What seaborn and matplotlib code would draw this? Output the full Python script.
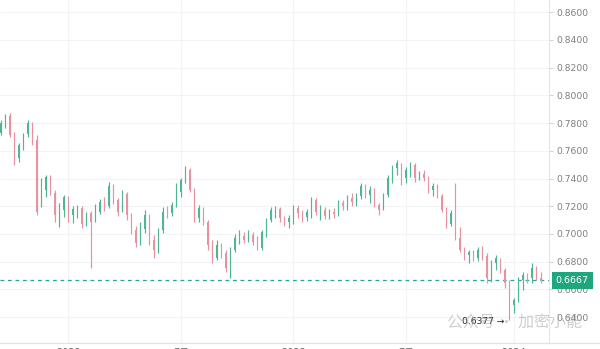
import numpy as np
import pandas as pd
import matplotlib
matplotlib.use("Agg")
import matplotlib.pyplot as plt
import matplotlib.transforms as mtransforms
import seaborn as sns

# ---------------- data ----------------
opens = [0.7728, 0.7786, 0.7851, 0.7714, 0.7547, 0.7634, 0.7721, 0.7793, 0.7677, 0.7209,
         0.7317, 0.7403, 0.7295, 0.7144, 0.7173, 0.7259, 0.7137, 0.7173, 0.7187, 0.7087,
         0.7151, 0.7101, 0.7159, 0.7223, 0.7202, 0.7346, 0.7245, 0.7173, 0.7288, 0.7137,
         0.7029, 0.6943, 0.7036, 0.7130, 0.6957, 0.6884, 0.7029, 0.7159, 0.7151, 0.7209,
         0.7303, 0.7382, 0.7461, 0.7317, 0.7115, 0.7180, 0.7087, 0.6928, 0.6827, 0.6921,
         0.6862, 0.6754, 0.6884, 0.6971, 0.6986, 0.6957, 0.6993, 0.6943, 0.6899, 0.7007,
         0.7101, 0.7166, 0.7180, 0.7115, 0.7087, 0.7108, 0.7187, 0.7151, 0.7123, 0.7144,
         0.7245, 0.7159, 0.7173, 0.7130, 0.7159, 0.7144, 0.7223, 0.7202, 0.7259, 0.7231,
         0.7274, 0.7346, 0.7281, 0.7310, 0.7209, 0.7187, 0.7281, 0.7403, 0.7475, 0.7497,
         0.7403, 0.7446, 0.7497, 0.7411, 0.7432, 0.7403, 0.7317, 0.7339, 0.7274, 0.7173,
         0.7072, 0.7151, 0.6971, 0.6884, 0.6848, 0.6862, 0.6827, 0.6884, 0.6841, 0.6682,
         0.6790, 0.6812, 0.6740, 0.6646, 0.6488, 0.6524, 0.6668, 0.6704, 0.6682, 0.6754,
         0.6682]
highs = [0.7822, 0.7865, 0.7872, 0.7736, 0.7655, 0.7728, 0.7822, 0.7808, 0.7714, 0.7403,
         0.7425, 0.7425, 0.7317, 0.7223, 0.7281, 0.7274, 0.7202, 0.7209, 0.7202, 0.7159,
         0.7166, 0.7216, 0.7252, 0.7267, 0.7375, 0.7360, 0.7259, 0.7317, 0.7303, 0.7151,
         0.7058, 0.7087, 0.7173, 0.7144, 0.6993, 0.7043, 0.7195, 0.7202, 0.7231, 0.7367,
         0.7403, 0.7490, 0.7475, 0.7331, 0.7209, 0.7195, 0.7101, 0.6957, 0.6957, 0.6935,
         0.6884, 0.6907, 0.7000, 0.7029, 0.7014, 0.7029, 0.7014, 0.6986, 0.7029, 0.7115,
         0.7195, 0.7202, 0.7195, 0.7130, 0.7137, 0.7209, 0.7209, 0.7173, 0.7180, 0.7267,
         0.7259, 0.7209, 0.7195, 0.7180, 0.7187, 0.7245, 0.7245, 0.7281, 0.7295, 0.7295,
         0.7367, 0.7360, 0.7346, 0.7331, 0.7223, 0.7295, 0.7425, 0.7497, 0.7533, 0.7511,
         0.7482, 0.7519, 0.7511, 0.7454, 0.7461, 0.7418, 0.7367, 0.7360, 0.7288, 0.7195,
         0.7173, 0.7367, 0.7050, 0.6907, 0.6884, 0.6884, 0.6907, 0.6914, 0.6862, 0.6812,
         0.6848, 0.6827, 0.6754, 0.6668, 0.6538, 0.6689, 0.6726, 0.6718, 0.6790, 0.6769,
         0.6726]
lows = [0.7714, 0.7764, 0.7700, 0.7497, 0.7519, 0.7605, 0.7700, 0.7641, 0.7137, 0.7195,
        0.7267, 0.7281, 0.7087, 0.7051, 0.7123, 0.7087, 0.7079, 0.7115, 0.7043, 0.7058,
        0.6754, 0.7087, 0.7144, 0.7166, 0.7187, 0.7216, 0.7130, 0.7159, 0.7101, 0.7000,
        0.6907, 0.6921, 0.7007, 0.6921, 0.6827, 0.6862, 0.7007, 0.7115, 0.7130, 0.7195,
        0.7267, 0.7367, 0.7303, 0.7087, 0.7087, 0.7065, 0.6884, 0.6790, 0.6812, 0.6827,
        0.6726, 0.6682, 0.6870, 0.6928, 0.6935, 0.6943, 0.6921, 0.6884, 0.6884, 0.6978,
        0.7087, 0.7115, 0.7087, 0.7058, 0.7043, 0.7072, 0.7115, 0.7087, 0.7094, 0.7115,
        0.7137, 0.7101, 0.7108, 0.7108, 0.7115, 0.7130, 0.7173, 0.7173, 0.7202, 0.7202,
        0.7252, 0.7259, 0.7223, 0.7195, 0.7137, 0.7173, 0.7267, 0.7367, 0.7425, 0.7353,
        0.7367, 0.7411, 0.7375, 0.7389, 0.7382, 0.7295, 0.7274, 0.7259, 0.7159, 0.7043,
        0.7058, 0.6957, 0.6870, 0.6812, 0.6790, 0.6805, 0.6805, 0.6812, 0.6646, 0.6653,
        0.6740, 0.6718, 0.6610, 0.6377, 0.6430, 0.6509, 0.6596, 0.6646, 0.6646, 0.6668,
        0.6646]
closes = [0.7800, 0.7851, 0.7714, 0.7547, 0.7641, 0.7721, 0.7800, 0.7677, 0.7159, 0.7375,
          0.7411, 0.7303, 0.7137, 0.7202, 0.7267, 0.7137, 0.7180, 0.7187, 0.7072, 0.7137,
          0.7087, 0.7195, 0.7231, 0.7195, 0.7346, 0.7245, 0.7159, 0.7295, 0.7137, 0.7029,
          0.6935, 0.7043, 0.7137, 0.6957, 0.6884, 0.7029, 0.7159, 0.7137, 0.7209, 0.7339,
          0.7389, 0.7468, 0.7317, 0.7115, 0.7187, 0.7087, 0.6921, 0.6827, 0.6921, 0.6862,
          0.6754, 0.6884, 0.6971, 0.6993, 0.6957, 0.7000, 0.6943, 0.6907, 0.7014, 0.7101,
          0.7173, 0.7180, 0.7115, 0.7087, 0.7115, 0.7187, 0.7151, 0.7123, 0.7159, 0.7245,
          0.7159, 0.7173, 0.7130, 0.7159, 0.7144, 0.7223, 0.7202, 0.7259, 0.7231, 0.7274,
          0.7346, 0.7281, 0.7317, 0.7209, 0.7173, 0.7281, 0.7403, 0.7475, 0.7511, 0.7389,
          0.7461, 0.7497, 0.7403, 0.7432, 0.7403, 0.7317, 0.7346, 0.7281, 0.7173, 0.7072,
          0.7151, 0.6971, 0.6884, 0.6848, 0.6870, 0.6827, 0.6884, 0.6841, 0.6682, 0.6790,
          0.6827, 0.6740, 0.6646, 0.6488, 0.6524, 0.6668, 0.6704, 0.6668, 0.6754, 0.6682,
          0.6667]

price_ticks = [0.64, 0.66, 0.68, 0.70, 0.72, 0.74, 0.76, 0.78, 0.80, 0.82, 0.84, 0.86]
date_tick_bars = [15, 40, 65, 90, 114]
date_tick_labels = ["2022", "7月", "2023", "7月", "2024"]
last_price = 0.6667
low_label = "0.6377 →"
watermark = "公众号 · 加密小能"

df = pd.DataFrame({"open": opens, "high": highs, "low": lows, "close": closes})
df["bar"] = np.arange(len(df))
df["up"] = df["close"] >= df["open"]

UP = "#4fb595"
DOWN = "#e8929f"

# ---------------- figure ----------------
sns.set_theme(style="white")
plt.rcParams["font.family"] = ["DejaVu Sans", "Noto Sans CJK SC"]

fig = plt.figure(figsize=(6.0, 3.49), dpi=100)
ax = fig.add_axes([0.0, 6 / 349, 549 / 600, 343 / 349])

colors = np.where(df["up"], UP, DOWN)
ax.vlines(df["bar"], df["low"], df["high"], colors=colors, linewidth=0.85, zorder=3)
body_h = (df["close"] - df["open"]).abs().clip(lower=0.0006)
ax.bar(df["bar"], body_h, bottom=np.minimum(df["open"], df["close"]),
       width=0.32, color=colors, linewidth=0, zorder=3)

# last price dashed line
ax.axhline(last_price, color="#26a69a", linewidth=0.9, linestyle=(0, (3, 3)), zorder=2)

ax.set_xlim(-0.22, 121.8)
ax.set_ylim(0.6214, 0.8687)

# grid
ax.set_yticks(price_ticks)
ax.set_yticklabels([f"{v:.4f}" for v in price_ticks])
ax.set_xticks(date_tick_bars)
ax.set_xticklabels(date_tick_labels)
ax.grid(True, color="#f2f3f7", linewidth=0.8, zorder=0)

ax.yaxis.tick_right()
ax.tick_params(axis="y", which="both", right=True, length=3, width=0.6, color="#c8cbd2",
               labelsize=6.6, labelcolor="#7d7d7d", pad=2)
ax.tick_params(axis="x", which="both", bottom=True, length=0, labelsize=7,
               labelcolor="#666666", pad=3.6)

for side in ["left", "top"]:
    ax.spines[side].set_visible(False)
ax.spines["right"].set_color("#e3e5ea")
ax.spines["right"].set_linewidth(0.8)
ax.spines["bottom"].set_color("#dfe2e8")
ax.spines["bottom"].set_linewidth(0.9)

# bottom line across the price scale
fig.add_artist(plt.Line2D([549 / 600, 1.0], [6 / 349, 6 / 349], transform=fig.transFigure,
                          color="#dfe2e8", linewidth=0.9))

# last price label on the scale
trans = mtransforms.blended_transform_factory(ax.transAxes, ax.transData)
ax.text(1.012, last_price, f"{last_price:.4f}", transform=trans, ha="left", va="center",
        fontsize=6.8, color="white", clip_on=False, zorder=6,
        bbox=dict(boxstyle="square,pad=0.42", facecolor="#1ea67f", edgecolor="none"))

# low label
low_idx = int(df["low"].idxmin())
ax.text(low_idx - 1.2, df["low"].min() - 0.0008, low_label, ha="right", va="center",
        fontsize=6.6, color="#222222", zorder=7)

# watermark
fig.text(0.745, 0.075, watermark, ha="left", va="center", fontsize=11.5,
         color="#a8a8a8", alpha=0.55, family=["Noto Sans CJK SC", "DejaVu Sans"], zorder=8)

fig.savefig("out.png", dpi=100)
